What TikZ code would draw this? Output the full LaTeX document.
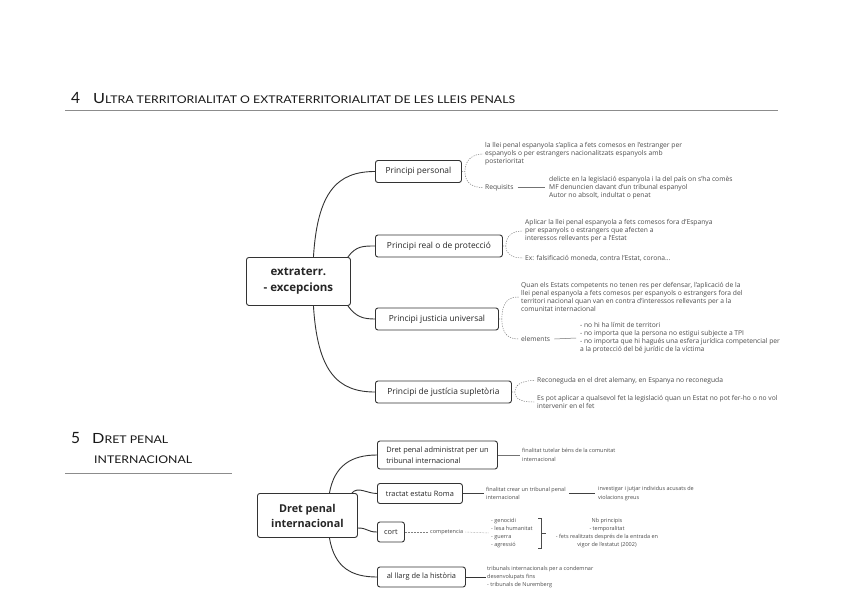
\documentclass[tikz,border=0pt]{standalone}
\usepackage{graphicx}
\usepackage{fontspec}
\setmainfont{Open Sans}
\newfontfamily\hdfont{Lato}
\newcommand\hdwide[1]{\scalebox{1.16}[1]{#1}}
\begin{document}
\begin{tikzpicture}[x=1pt,y=-1pt,
  box/.style={draw=black!80, line width=0.9pt, rounded corners=2.5pt, fill=white, inner xsep=5pt, inner ysep=0pt, anchor=west, text=black!85},
  boxa/.style={box, font=\fontsize{8.4}{10}\selectfont, minimum height=22pt},
  boxb/.style={box, font=\fontsize{7.4}{10}\selectfont, minimum height=20pt},
  cbox/.style={box, align=center, anchor=north west},
  sma/.style={font=\fontsize{6.7}{8}\selectfont, inner sep=0pt, align=left, anchor=west, text=black!70},
  smb/.style={font=\fontsize{5.5}{8.2}\selectfont, inner sep=0pt, align=left, anchor=west, text=black!70},
  conn/.style={line width=0.9pt, draw=black!80},
  dconn/.style={line width=0.45pt, draw=black!55, dash pattern=on 1.2pt off 1.2pt},
  lconn/.style={line width=0.5pt, draw=black!55},
  dotconn/.style={line width=0.45pt, draw=black!50, dash pattern=on 0.6pt off 0.9pt},
  hd/.style={anchor=base west, inner sep=0pt, font=\hdfont, text=black!90},
  rule/.style={line width=0.7pt, draw=black!45},
]
\useasboundingbox (0,0) rectangle (848,599);
\fill[white] (0,0) rectangle (848,599);

% ---------- heading 4
\node[hd] (h4) at (71,104) {\fontsize{15.5}{15}\selectfont 4\hspace{13pt}\hdwide{\fontsize{14}{14}\selectfont U\fontsize{10.6}{10}\selectfont LTRA TERRITORIALITAT O EXTRATERRITORIALITAT DE LES LLEIS PENALS}};
\coordinate (r1a) at (65,110);
\coordinate (r1b) at (778,110);
\draw[rule] (r1a) -- (r1b);

% ---------- mind map 1
\node[cbox, minimum width=104pt, minimum height=48pt, font=\bfseries\fontsize{11.5}{16}\selectfont] (c) at (246,257) {extraterr.\\- excepcions};
\node[boxa, minimum width=86pt] (p1) at (375,171.5) {Principi personal};
\node[boxa, minimum width=127pt] (p2) at (375,246) {Principi real o de protecció};
\node[boxa, minimum width=123pt] (p3) at (375,319) {Principi justicia universal};
\node[boxa, minimum width=136pt] (p4) at (375,392) {Principi de justícia supletòria};

\draw[conn] ([xshift=15pt]c.north) .. controls +(4,-65) and +(-38,0) .. (p1.west);
\draw[conn] ([xshift=-3pt]c.north east) .. controls +(8,-11) and +(-12,0) .. (p2.west);
\draw[conn] ([xshift=-3pt]c.south east) .. controls +(8,11) and +(-12,0) .. (p3.west);
\draw[conn] ([xshift=15pt]c.south) .. controls +(4,65) and +(-38,0) .. (p4.west);

% personal
\node[sma] (t1) at (485,154) {la llei penal espanyola s'aplica a fets comesos en l'estranger per\\espanyols o per estrangers nacionalitzats espanyols amb\\posterioritat};
\node[sma] (rq) at (485,187.5) {Requisits};
\node[sma] (t2) at (549,187.5) {delicte en la legislació espanyola i la del país on s'ha comès\\MF denuncien davant d'un tribunal espanyol\\Autor no absolt, indultat o penat};
\draw[dconn] (p1.east) -- ++(3,0) .. controls +(0,-12) and +(-10,0) .. ([xshift=-2pt]t1.west);
\draw[dconn] (p1.east) -- ++(3,0) .. controls +(0,12) and +(-10,0) .. ([xshift=-2pt]rq.west);
\draw[lconn] ([xshift=4pt]rq.east) -- ([xshift=-4pt]t2.west);

% real
\node[sma] (t3) at (525,231) {Aplicar la llei penal espanyola a fets comesos fora d'Espanya\\per espanyols o estrangers que afecten a\\interessos rellevants per a l'Estat};
\node[sma] (t4) at (525,258) {Ex: falsificació moneda, contra l'Estat, corona...};
\draw[dconn] (p2.east) -- ++(3,0) .. controls +(0,-11) and +(-10,0) .. ([xshift=-2pt]t3.west);
\draw[dconn] (p2.east) -- ++(3,0) .. controls +(0,9) and +(-10,0) .. ([xshift=-2pt]t4.west);

% universal
\node[sma] (t5) at (521,297) {Quan els Estats competents no tenen res per defensar, l'aplicació de la\\llei penal espanyola a fets comesos per espanyols o estrangers fora del\\territori nacional quan van en contra d'interessos rellevants per a la\\comunitat internacional};
\node[sma] (el) at (521,339) {elements};
\node[sma] (t6) at (580,338) {- no hi ha límit de territori\\- no importa que la persona no estigui subjecte a TPI\\- no importa que hi hagués una esfera jurídica competencial per\\a la protecció del bé jurídic de la víctima};
\draw[dconn] (p3.east) -- ++(3,0) .. controls +(0,-18) and +(-10,0) .. ([xshift=-2pt]t5.west);
\draw[dconn] (p3.east) -- ++(3,0) .. controls +(0,16) and +(-10,0) .. ([xshift=-2pt]el.west);
\draw[lconn] ([xshift=4pt]el.east) -- ([xshift=-4pt]t6.west);

% supletoria
\node[sma] (t7) at (537,380.5) {Reconeguda en el dret alemany, en Espanya no reconeguda};
\node[sma] (t8) at (537,402) {Es pot aplicar a qualsevol fet la legislació quan un Estat no pot fer-ho o no vol\\intervenir en el fet};
\draw[dconn] (p4.east) -- ++(3,0) .. controls +(0,-9) and +(-10,0) .. ([xshift=-2pt]t7.west);
\draw[dconn] (p4.east) -- ++(3,0) .. controls +(0,9) and +(-10,0) .. ([xshift=-2pt]t8.west);

% ---------- heading 5
\node[hd] (h5) at (71,443) {\fontsize{15.5}{15}\selectfont 5\hspace{12pt}\hdwide{\fontsize{14}{14}\selectfont D\fontsize{10.6}{10}\selectfont RET PENAL}};
\node[hd] (h5b) at (94,463.5) {\hdwide{\fontsize{10.6}{10}\selectfont INTERNACIONAL}};
\coordinate (r2a) at (65,473);
\coordinate (r2b) at (232,473);
\draw[rule] (r2a) -- (r2b);

% ---------- mind map 2
\node[cbox, minimum width=100pt, minimum height=44pt, font=\bfseries\fontsize{10.8}{15}\selectfont] (d) at (257,493) {Dret penal\\internacional};
\node[boxb, minimum width=120pt, minimum height=28pt, align=left, font=\fontsize{7.4}{11}\selectfont] (q1) at (377,455) {Dret penal administrat per un\\tribunal internacional};
\node[boxb, minimum width=85pt] (q2) at (377,493.5) {tractat estatu Roma};
\node[boxb, minimum width=27pt] (q3) at (377,532) {cort};
\node[boxb, minimum width=88pt] (q4) at (377,577) {al llarg de la història};

\draw[conn] ([xshift=22pt]d.north) .. controls +(5,-28) and +(-25,0) .. (q1.west);
\draw[conn] ([xshift=-6pt]d.north east) .. controls +(6,-7) and +(-10,0) .. (q2.west);
\draw[conn] ([yshift=-35pt]d.north east) .. controls +(10,0) and +(-10,0) .. (q3.west);
\draw[conn] ([xshift=22pt]d.south) .. controls +(5,30) and +(-25,0) .. (q4.west);

\node[smb] (a1) at (522,455) {finalitat tutelar béns de la comunitat\\internacional};
\draw[lconn] (q1.east) -- ([xshift=-2pt]a1.west);
\node[smb] (a2) at (486,493.5) {finalitat crear un tribunal penal\\internacional};
\node[smb] (a3) at (598,493.5) {investigar i jutjar individus acusats de\\violacions greus};
\draw[lconn, draw=black!75] (q2.east) -- ([xshift=-2pt]a2.west);
\draw[lconn, draw=black!75] ([xshift=3pt]a2.east) -- ([xshift=-3pt]a3.west);

\node[smb] (k1) at (430,532) {competencia};
\node[smb] (k2) at (491,533) {- genocidi\\- lesa humanitat\\- guerra\\- agressió};
\draw[dotconn] (q3.east) -- ([xshift=-2pt]k1.west);
\draw[dotconn] ([xshift=2pt]k1.east) -- ([xshift=-2pt]k2.west);
\coordinate (bk1) at (538,518);
\coordinate (bk2) at (541,518);
\coordinate (bk3) at (541,548);
\coordinate (bk4) at (538,548);
\coordinate (bk5) at (541,533);
\coordinate (bk6) at (546,533);
\draw[lconn, draw=black!70] (bk1) -- (bk2) -- (bk3) -- (bk4);
\draw[lconn, draw=black!70] (bk5) -- (bk6);
\node[smb, anchor=center, align=center] (k3) at (607,533) {Nb principis\\- temporalitat\\- fets realitzats després de la entrada en\\vigor de l'estatut (2002)};

\node[smb] (hi) at (487,577) {tribunals internacionals per a condemnar\\desenvolupats fins\\- tribunals de Nuremberg};
\draw[conn, line width=0.8pt] (q4.east) -- ([xshift=-1pt]hi.west);
\end{tikzpicture}
\end{document}
